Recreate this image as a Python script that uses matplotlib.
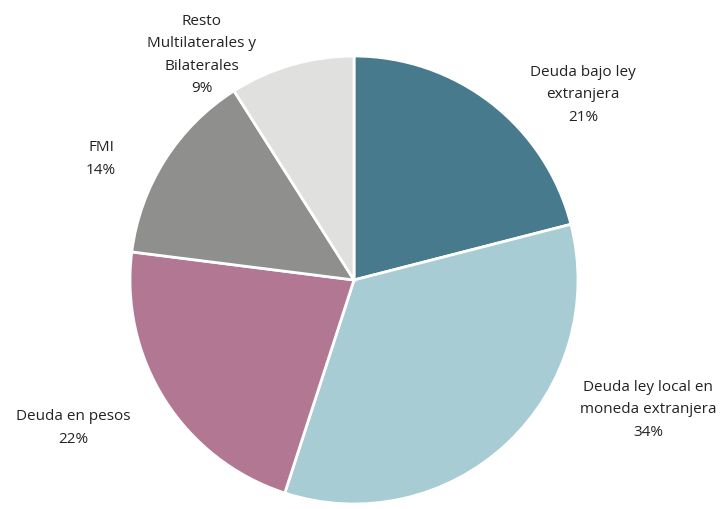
import matplotlib.pyplot as plt

labels = ["Deuda bajo ley\nextranjera", "Deuda ley local en\nmoneda extranjera",
          "Deuda en pesos", "FMI", "Resto\nMultilaterales y\nBilaterales"]
shares = [21, 34, 22, 14, 9]
colors = ["#477a8d", "#a7ccd4", "#b27893", "#8f8f8d", "#e0e0df"]

# label anchor positions in pixel space (x, y from top)
label_pos = [(583, 95), (648, 410), (73, 428), (101, 159), (202, 55)]

W, H = 725, 510
fig = plt.figure(figsize=(7.25, 5.1), dpi=100)
ax = fig.add_axes([0, 0, 1, 1])

wedges, _ = ax.pie(shares, colors=colors, startangle=90, counterclock=False,
                   center=(354, H - 281), radius=224,
                   wedgeprops=dict(edgecolor="white", linewidth=2))

ax.set_xlim(0, W)
ax.set_ylim(0, H)
ax.set_aspect("equal")
ax.axis("off")

for lab, val, (x, y) in zip(labels, shares, label_pos):
    ax.text(x, H - y, f"{lab}\n{val}%", ha="center", va="center",
            fontsize=11, family="Open Sans", color="#222222", linespacing=1.65)

fig.savefig("out.png", dpi=100)
